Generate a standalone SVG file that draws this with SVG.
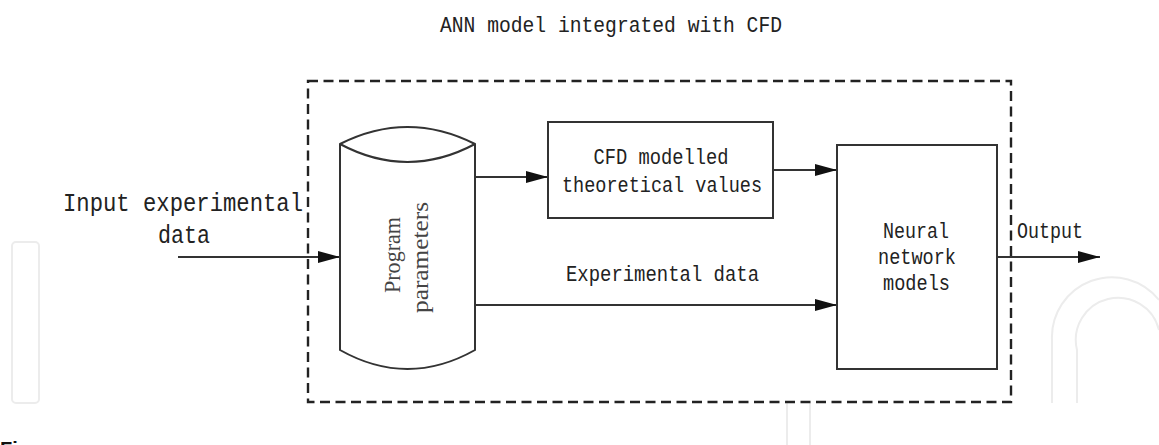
<svg xmlns="http://www.w3.org/2000/svg" width="1159" height="445" viewBox="0 0 1159 445">
  <style>
    .wm { fill: none; stroke: #ececec; stroke-width: 2; }
    .frame { fill: none; stroke: #222; stroke-width: 2.4; stroke-dasharray: 10 5.5; }
    .shape { fill: #fff; stroke: #333; stroke-width: 2; }
    .link { fill: none; stroke: #333; stroke-width: 2; }
    .mono { font-family: "Liberation Mono", "DejaVu Sans Mono", monospace; fill: #222; }
    .serif { font-family: "Liberation Serif", "DejaVu Serif", serif; fill: #444; font-size: 23px; }
  </style>
  <defs>
    <marker id="ah" markerWidth="22" markerHeight="12" refX="22" refY="6" orient="auto" markerUnits="userSpaceOnUse">
      <path d="M0,0 L22,6 L0,12 z" fill="#111"/>
    </marker>
  </defs>

  <rect width="1159" height="445" fill="#fff"/>

  <!-- faint background emblem -->
  <g id="emblem">
    <rect class="wm" x="12" y="242" width="27" height="161" rx="4"/>
    <path class="wm" d="M1052,403 L1052,340 A60,60 0 0 1 1159,300"/>
    <path class="wm" d="M1077,403 L1077,350 A40,40 0 0 1 1159,330"/>
    <line class="wm" x1="787" y1="403" x2="787" y2="445"/>
    <line class="wm" x1="810" y1="403" x2="810" y2="445"/>
  </g>

  <!-- title -->
  <text class="mono" x="611" y="32" font-size="22" text-anchor="middle" textLength="342" lengthAdjust="spacingAndGlyphs">ANN model integrated with CFD</text>

  <!-- dashed boundary of the integrated model -->
  <rect id="boundary" class="frame" x="308" y="81" width="703" height="321"/>

  <!-- connectors -->
  <g id="connectors">
    <line class="link" x1="178" y1="257" x2="340" y2="257" marker-end="url(#ah)"/>
    <line class="link" x1="475" y1="177" x2="548" y2="177" marker-end="url(#ah)"/>
    <line class="link" x1="773" y1="170" x2="837" y2="170" marker-end="url(#ah)"/>
    <line class="link" x1="475" y1="305" x2="837" y2="305" marker-end="url(#ah)"/>
    <line class="link" x1="997" y1="257" x2="1100" y2="257" marker-end="url(#ah)"/>
  </g>

  <!-- input label -->
  <g id="input">
    <text class="mono" x="183" y="211" font-size="25" text-anchor="middle" textLength="240" lengthAdjust="spacingAndGlyphs">Input experimental</text>
    <text class="mono" x="184" y="243" font-size="25" text-anchor="middle" textLength="52" lengthAdjust="spacingAndGlyphs">data</text>
  </g>

  <!-- program parameters store -->
  <g id="program-parameters">
    <path class="shape" d="M340,144 Q407.5,110 475,144 L475,350 Q407.5,388 340,350 Z"/>
    <path class="link" d="M340,144 Q407.5,180 475,144"/>
    <text class="serif" transform="translate(400,255) rotate(-90)" text-anchor="middle" textLength="76" lengthAdjust="spacingAndGlyphs">Program</text>
    <text class="serif" transform="translate(428,257.5) rotate(-90)" text-anchor="middle" textLength="111" lengthAdjust="spacingAndGlyphs">parameters</text>
  </g>

  <!-- CFD model -->
  <g id="cfd">
    <rect class="shape" x="548" y="122" width="225" height="96"/>
    <text class="mono" x="661" y="164" font-size="22" text-anchor="middle" textLength="135" lengthAdjust="spacingAndGlyphs">CFD modelled</text>
    <text class="mono" x="662" y="192" font-size="22" text-anchor="middle" textLength="200" lengthAdjust="spacingAndGlyphs">theoretical values</text>
  </g>

  <!-- experimental data label -->
  <text id="experimental-label" class="mono" x="662.5" y="281" font-size="22" text-anchor="middle" textLength="193" lengthAdjust="spacingAndGlyphs">Experimental data</text>

  <!-- neural network -->
  <g id="neural-network">
    <rect class="shape" x="837" y="145" width="160" height="224"/>
    <text class="mono" x="916" y="238" font-size="22" text-anchor="middle" textLength="66" lengthAdjust="spacingAndGlyphs">Neural</text>
    <text class="mono" x="917" y="264" font-size="22" text-anchor="middle" textLength="78" lengthAdjust="spacingAndGlyphs">network</text>
    <text class="mono" x="916.5" y="290" font-size="22" text-anchor="middle" textLength="67" lengthAdjust="spacingAndGlyphs">models</text>
  </g>

  <!-- output label -->
  <text id="output" class="mono" x="1017" y="238" font-size="22" textLength="66" lengthAdjust="spacingAndGlyphs">Output</text>

  <!-- caption start, running off the bottom edge -->
  <text x="0" y="456" font-family="Liberation Sans, Arial, sans-serif" font-weight="bold" font-size="20" fill="#111">Fi</text>
</svg>
